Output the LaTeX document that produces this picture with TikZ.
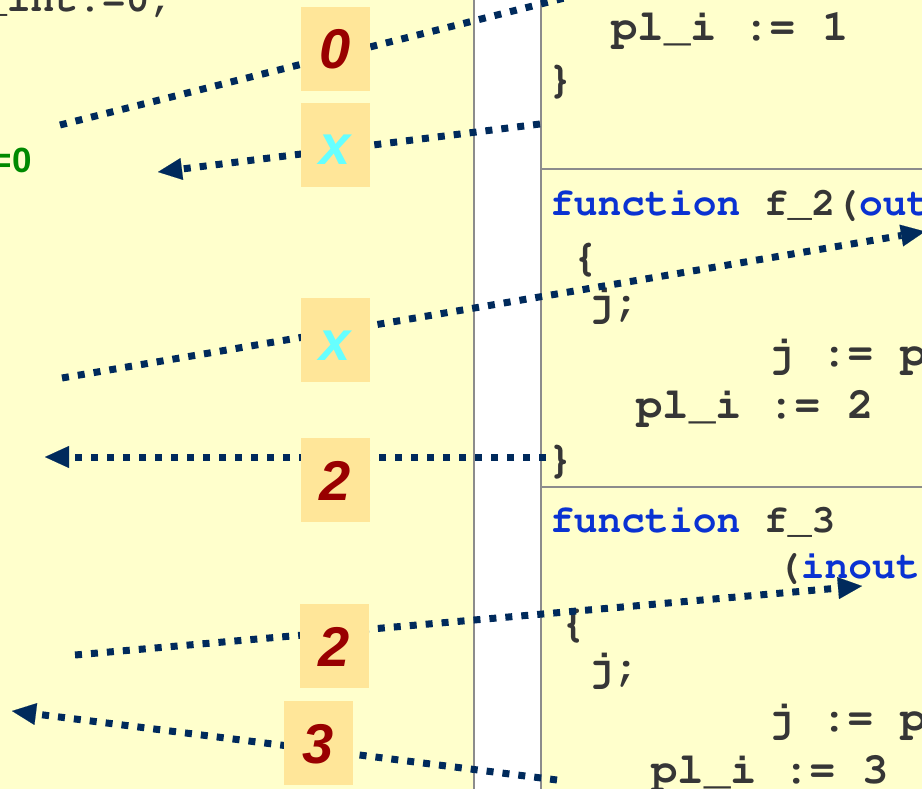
\documentclass[tikz,border=0pt]{standalone}
\usepackage[T1]{fontenc}
\usepackage{fontspec}
\newfontfamily\lblfont{Liberation Sans}
\usetikzlibrary{arrows.meta}
\definecolor{panel}{HTML}{FFFFCC}
\definecolor{rulegray}{HTML}{8C8C8C}
\definecolor{codegray}{HTML}{363636}
\definecolor{kw}{HTML}{0A32D2}
\definecolor{navy}{HTML}{002A5C}
\definecolor{tagfill}{HTML}{FFE699}
\definecolor{valred}{HTML}{990000}
\definecolor{valcyan}{HTML}{66FFFF}
\definecolor{valgreen}{HTML}{008A00}
\newcommand{\courierbold}[1]{\fontencoding{T1}\fontfamily{pcr}\fontseries{b}\fontshape{n}\fontsize{#1}{#1}\selectfont}
\tikzset{
  % Panel styles
  panelbox/.style={fill=panel, draw=rulegray, line width=2pt},
  % Code styles
  codeline/.style={anchor=base west, inner sep=0pt, text=codegray, font=\courierbold{44}},
  codehead/.style={codeline, font=\courierbold{39.6}},
  greenval/.style={inner sep=0pt, text=valgreen, font=\lblfont\bfseries\fontsize{35}{40}\selectfont},
  % Connector and value tag styles
  conn/.style={draw=navy, line width=7pt, dash pattern=on 7pt off 9pt, -{Triangle[length=24pt, width=22pt, line width=0.1pt]}},
  tag/.style={rectangle, fill=tagfill, minimum width=69pt, minimum height=84pt, inner sep=0pt, text height=40pt, text depth=0pt, font=\lblfont\bfseries\itshape\fontsize{56}{60}\selectfont, text=#1},
  tag/.default={valred},
}
\begin{document}
\begin{tikzpicture}[x=1pt, y=-1pt]
  \useasboundingbox (0,0) rectangle (922,789);
  \clip (0,0) rectangle (922,789);
  \fill[white] (0,0) rectangle (922,789);

  % Panels
  \draw[panelbox] (-10,-10) rectangle (474,800);
  \draw[panelbox] (541,-30) rectangle (940,169);
  \draw[panelbox] (541,169) rectangle (940,487);
  \draw[panelbox] (541,487) rectangle (940,820);

  % Caller
  \node[codehead] (init) at (-17,12) {\_int:=0;};
  \node[greenval, anchor=base east] (zero) at (32,173) {=0};

  % f_1
  \node[codeline] (plA) at (611,41) {pl\_i := 1};
  \node[codeline] (endA) at (547,93) {\}};

  % f_2
  \node[codehead] (fnB) at (550,215) {{\color{kw}function} f\_2({\color{kw}out}};
  \node[codeline] (openB) at (572,270) {\{};
  \node[codeline] (declB) at (588,315) {j;};
  \node[codeline] (asgB) at (768,366) {j := p};
  \node[codeline] (plB) at (636,418) {pl\_i := 2};
  \node[codeline] (endB) at (547,472) {\}};

  % f_3
  \node[codehead] (fnC) at (550,532) {{\color{kw}function} f\_3};
  \node[codehead] (argC) at (777,578) {({\color{kw}inout}};
  \node[codeline] (openC) at (560,636) {\{};
  \node[codeline] (declC) at (588,680) {j;};
  \node[codeline] (asgC) at (768,731) {j := p};
  \node[codeline] (plC) at (651,783) {pl\_i := 3};

  % Connector ends
  \coordinate (sA) at (60,125);   \coordinate (tA) at (640,-21);
  \coordinate (sB) at (540,124);  \coordinate (tB) at (158,172);
  \coordinate (sC) at (62,378);   \coordinate (tC) at (925,231.5);
  \coordinate (sD) at (546,457);  \coordinate (tD) at (45,457);
  \coordinate (sE) at (75,655);   \coordinate (tE) at (862,586);
  \coordinate (sF) at (557,780);  \coordinate (tF) at (12,711);

  % Connectors
  \draw[conn] (sA) -- (tA);
  \draw[conn] (sB) -- (tB);
  \draw[conn] (sC) -- (tC);
  \draw[conn] (sD) -- (tD);
  \draw[conn] (sE) -- (tE);
  \draw[conn] (sF) -- (tF);

  % Value tags
  \node[tag] (vA) at (335.5,49) {0};
  \node[tag=valcyan] (vB) at (335.5,145) {x};
  \node[tag=valcyan] (vC) at (335.5,340) {x};
  \node[tag] (vD) at (335.5,480) {2};
  \node[tag] (vE) at (334.5,646) {2};
  \node[tag] (vF) at (318.5,743) {3};
\end{tikzpicture}
\end{document}
